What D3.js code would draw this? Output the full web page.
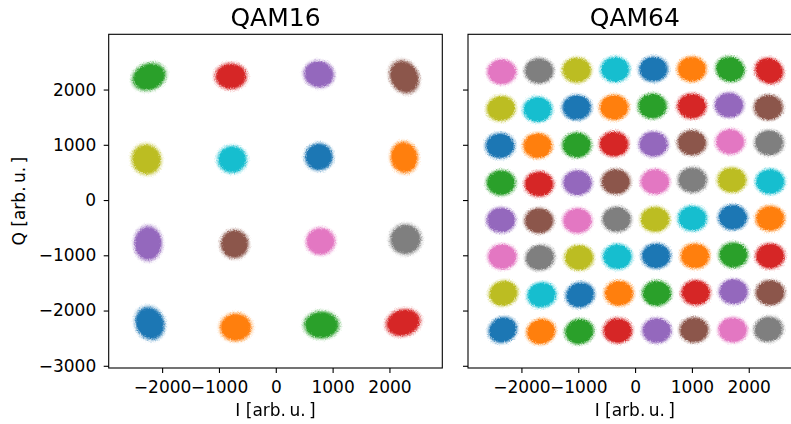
<!DOCTYPE html>
<html>
<head>
<meta charset="utf-8">
<script src="https://cdn.jsdelivr.net/npm/d3@7"></script>
<style>
  html, body { margin: 0; padding: 0; background: #fff; }
  svg { display: block; font-family: "DejaVu Sans", sans-serif; }
</style>
</head>
<body>
<svg id="chart" width="791" height="424"></svg>
<script>
// QAM16 received symbol clusters, ordered row by row from the bottom, left to right
const qam16I = [-2218, -704, 804, 2241, -2248, -727, 787, 2283, -2277, -769, 757, 2259, -2231, -792, 757, 2259];
const qam16Q = [-2230, -2302, -2260, -2218, -783, -796, -747, -711, 736, 736, 783, 772, 2230, 2242, 2278, 2230];
// noise spread of each cluster (arb. u.) and its tilt (degrees, counter-clockwise)
const qam16SpreadI = [235, 260, 285, 285, 230, 230, 240, 255, 240, 240, 230, 225, 280, 260, 250, 230];
const qam16SpreadQ = [285, 235, 230, 225, 290, 240, 230, 255, 260, 230, 230, 265, 225, 220, 225, 290];
const qam16Tilt = [25, 0, 0, 15, 0, 0, 0, 10, 30, 0, 0, 10, 20, 0, -10, 30];

// QAM64 received symbol clusters, same ordering
const qam64I = [
  -2330, -1655, -980, -305, 381, 1039, 1719, 2347,
  -2318, -1643, -968, -282, 381, 1068, 1731, 2377,
  -2336, -1673, -986, -311, 370, 1056, 1731, 2377,
  -2359, -1690, -1015, -323, 352, 1009, 1719, 2377,
  -2359, -1690, -1015, -340, 352, 1009, 1702, 2377,
  -2377, -1714, -1027, -370, 323, 998, 1673, 2359,
  -2359, -1714, -1027, -370, 305, 998, 1655, 2347,
  -2347, -1690, -1027, -352, 323, 998, 1673, 2359
];
const qam64Q = [
  -2351, -2381, -2381, -2363, -2363, -2351, -2351, -2339,
  -1688, -1718, -1718, -1688, -1688, -1676, -1658, -1676,
  -1025, -1043, -1043, -1025, -1013, -1013, -995, -1013,
  -362, -374, -374, -350, -350, -332, -313, -332,
  313, 289, 313, 332, 332, 362, 362, 332,
  983, 983, 995, 1013, 1013, 1037, 1055, 1037,
  1658, 1640, 1676, 1676, 1700, 1700, 1718, 1676,
  2321, 2339, 2351, 2363, 2369, 2369, 2369, 2339
];
const qam64Tilt = [
  25, 15, 10, 0, 0, 0, 0, 10,
  15, 10, 15, 0, 0, 0, 0, 0,
  0, 10, 0, 0, 0, 0, 0, 0,
  0, 0, 0, 0, 0, 0, 0, 0,
  0, 0, 0, 0, 0, 0, 0, 0,
  0, 0, 0, 0, 0, 0, 0, 0,
  10, 0, 0, 0, 0, 0, 0, 0,
  0, 0, 0, 0, 0, 0, -15, -25
];
const qam64SpreadI = 240;
const qam64SpreadQ = 215;

const xTicks = [-2000, -1000, 0, 1000, 2000];
const yTicks = [-3000, -2000, -1000, 0, 1000, 2000];
const titles = ["QAM16", "QAM64"];
const xLabel = "I [arb.\u2009u.\u2009]";
const yLabel = "Q [arb.\u2009u.\u2009]";

const colors = d3.schemeCategory10;

const svg = d3.select("#chart");
const W = 333.6, H = 333.7, panelTop = 34.3;
const panelLeft = [108.7, 468.0];

const defs = svg.append("defs");
// soft-edged fill for each cluster colour
colors.forEach((c, k) => {
  const g = defs.append("radialGradient").attr("id", "cl" + k);
  g.append("stop").attr("offset", "0%").attr("stop-color", c).attr("stop-opacity", 1);
  g.append("stop").attr("offset", "72%").attr("stop-color", c).attr("stop-opacity", 1);
  g.append("stop").attr("offset", "80%").attr("stop-color", c).attr("stop-opacity", 0.6);
  g.append("stop").attr("offset", "90%").attr("stop-color", c).attr("stop-opacity", 0.18);
  g.append("stop").attr("offset", "100%").attr("stop-color", c).attr("stop-opacity", 0);
});
const grain = defs.append("filter").attr("id", "grain")
  .attr("x", "-30%").attr("y", "-30%").attr("width", "160%").attr("height", "160%");
grain.append("feTurbulence").attr("type", "fractalNoise").attr("baseFrequency", 0.8)
  .attr("numOctaves", 2).attr("seed", 4).attr("result", "n");
grain.append("feDisplacementMap").attr("in", "SourceGraphic").attr("in2", "n")
  .attr("scale", 3.5).attr("xChannelSelector", "R").attr("yChannelSelector", "G");

const x = d3.scaleLinear().domain([-2940, 2930]);
const y = d3.scaleLinear().domain([-3040, 3000]).range([H, 0]);

const panels = [
  { I: qam16I, Q: qam16Q, sI: qam16SpreadI, sQ: qam16SpreadQ, tilt: qam16Tilt },
  { I: qam64I, Q: qam64Q, sI: qam64I.map(() => qam64SpreadI), sQ: qam64I.map(() => qam64SpreadQ), tilt: qam64Tilt }
];

panels.forEach((p, pi) => {
  const xs = x.copy().range([0, W]);
  const g = svg.append("g").attr("transform", `translate(${panelLeft[pi]},${panelTop})`);

  const kx = Math.abs(xs(1000) - xs(0)) / 1000;
  const ky = Math.abs(y(1000) - y(0)) / 1000;
  const pts = p.I.map((v, i) => ({ i, I: v, Q: p.Q[i], sI: p.sI[i], sQ: p.sQ[i], t: p.tilt[i] }));

  g.append("g").attr("filter", "url(#grain)")
    .selectAll("ellipse").data(pts).join("ellipse")
    .attr("cx", 0).attr("cy", 0)
    .attr("rx", d => d.sI * kx * 1.3)
    .attr("ry", d => d.sQ * ky * 1.3)
    .attr("transform", d => `translate(${xs(d.I)},${y(d.Q)}) rotate(${-d.t})`)
    .attr("fill", d => `url(#cl${d.i % 10})`);

  // axes
  const ax = g.append("g").attr("transform", `translate(0,${H})`)
    .call(d3.axisBottom(xs).tickValues(xTicks).tickSize(5).tickPadding(8).tickFormat(d3.format("d")));
  const ay = g.append("g")
    .call(d3.axisLeft(y).tickValues(yTicks).tickSize(5).tickPadding(7.5).tickFormat(pi === 0 ? d3.format("d") : () => ""));
  [ax, ay].forEach(a => {
    a.select(".domain").remove();
    a.selectAll("line").attr("stroke", "#000").attr("stroke-width", 1.1);
    a.selectAll("text").attr("font-size", 17).attr("fill", "#000").attr("font-family", "DejaVu Sans, sans-serif");
  });

  g.append("rect").attr("x", 0).attr("y", 0).attr("width", W).attr("height", H)
    .attr("fill", "none").attr("stroke", "#000").attr("stroke-width", 1.1);

  g.append("text").attr("x", W / 2).attr("y", -8).attr("text-anchor", "middle")
    .attr("font-size", 25).attr("fill", "#000").text(titles[pi]);

  g.append("text").attr("x", W / 2).attr("y", H + 48.5).attr("text-anchor", "middle")
    .attr("font-size", 17).attr("fill", "#000").text(xLabel);

  if (pi === 0) {
    g.append("text").attr("transform", `translate(${25 - panelLeft[0]},${H / 2}) rotate(-90)`)
      .attr("text-anchor", "middle").attr("font-size", 17).attr("fill", "#000").text(yLabel);
  }
});
</script>
</body>
</html>
